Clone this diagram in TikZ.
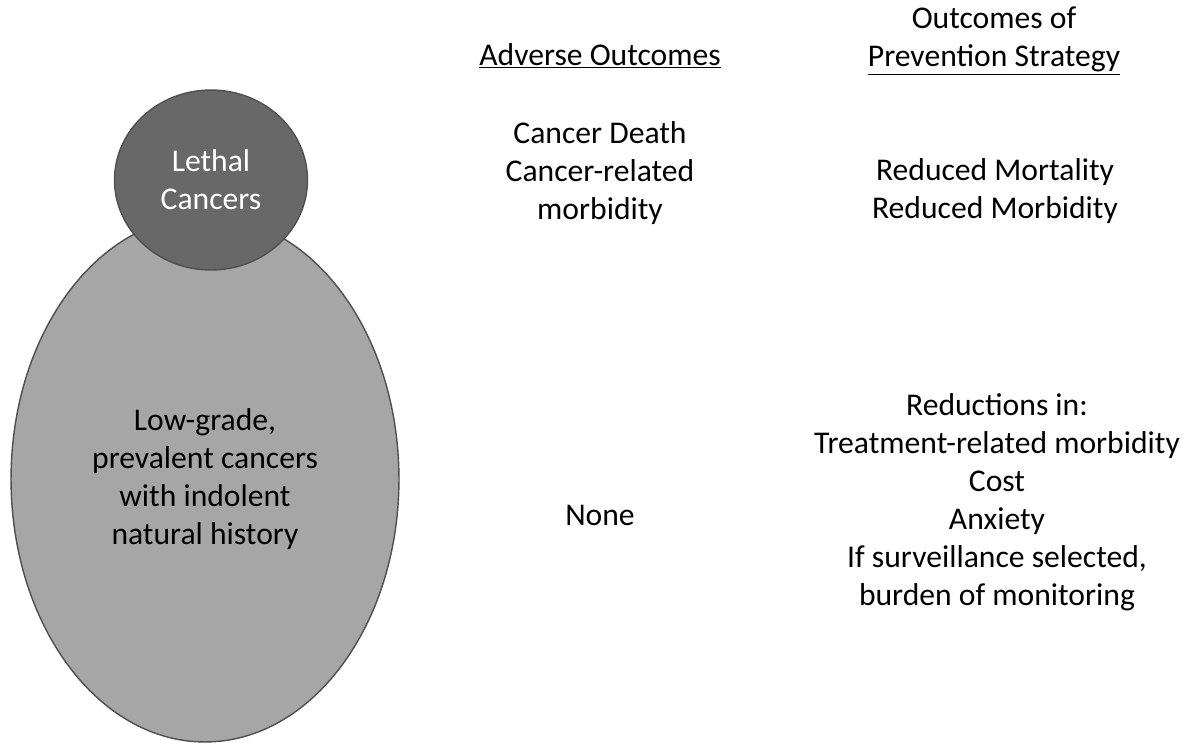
\documentclass[tikz,border=0pt]{standalone}
\usepackage{fontspec}
\setmainfont{Carlito}
\usepackage{tikz}
\usetikzlibrary{shapes.geometric}

\definecolor{lethalgray}{HTML}{686868}
\definecolor{lowgray}{HTML}{A6A6A6}
\definecolor{rimgray}{HTML}{4F4F4F}

\begin{document}
\begin{tikzpicture}[x=0.02cm, y=-0.02cm,
	txt/.style={align=center, inner sep=0pt, font=\fontsize{18}{21.6}\selectfont}]
	
	\useasboundingbox (0,0) rectangle (1187,745);
	
	\node[shape=ellipse,draw=rimgray,fill=lowgray,line width=0.8pt,minimum width=7.76cm,minimum height=10.52cm,txt,text=black] (low) at (205,479) {Low-grade,\\prevalent cancers\\with indolent\\natural history};
	\node[shape=ellipse,draw=rimgray,fill=lethalgray,line width=0.8pt,minimum width=3.86cm,minimum height=3.6cm,txt,text=white] (lethal) at (211,180) {Lethal\\Cancers};
	
	\node[txt,anchor=base] (adverse) at (600,65) {\underline{Adverse Outcomes}};
	\node[txt] (prevhead) at (994,41) {Outcomes of\\\underline{Prevention Strategy}};
	
	\node[txt] (death) at (600,173) {Cancer Death\\Cancer-related\\morbidity};
	\node[txt] (reduced) at (995,191) {Reduced Mortality\\Reduced Morbidity};
	
	\node[txt] (none) at (600,515) {None};
	\node[txt] (reductions) at (997,502) {Reductions in:\\Treatment-related morbidity\\Cost\\Anxiety\\If surveillance selected,\\burden of monitoring};
	
\end{tikzpicture}
\end{document}
